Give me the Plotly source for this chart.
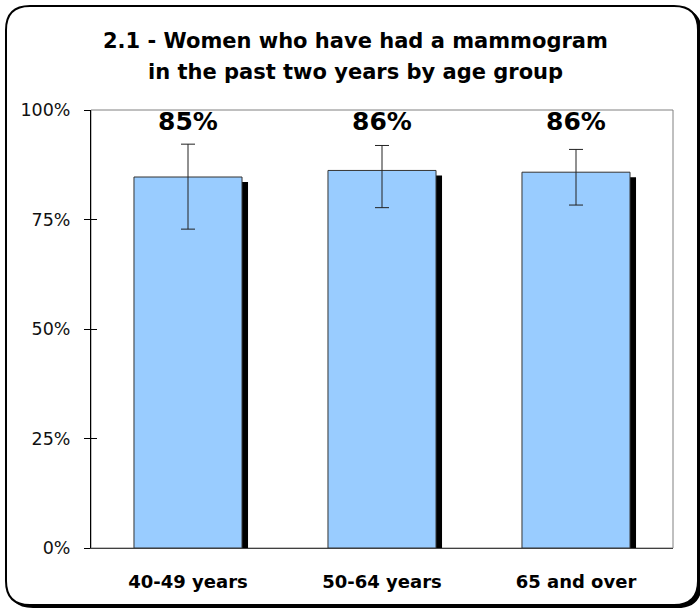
import plotly.graph_objects as go

categories = ["40-49 years", "50-64 years", "65 and over"]
values = [84.7, 86.2, 85.8]
err_upper = [92.2, 91.9, 91.0]
err_lower = [72.8, 77.7, 78.3]
labels = ["85%", "86%", "86%"]
tick_vals = [0, 25, 50, 75, 100]
tick_text = ["0%", "25%", "50%", "75%", "100%"]
title_lines = ["2.1 - Women who have had a mammogram", "in the past two years by age group"]

W, H = 700, 608
ML, MR, MT, MB = 91, 27, 110, 60
PW, PH = W - ML - MR, H - MT - MB

def px2paper(x, y):
    return (x - ML) / PW, (H - MB - y) / PH

bar_w = 0.557
shadow_dx = 6 / (PW / 3)
shadow_dy = 5 / PH * 100

fig = go.Figure()
# shadow
fig.add_trace(go.Bar(
    x=categories, y=[v - shadow_dy for v in values],
    width=bar_w, offset=-bar_w / 2 + shadow_dx,
    marker=dict(color="black", line=dict(width=0)),
    hoverinfo="skip", showlegend=False))
# main bars
fig.add_trace(go.Bar(
    x=categories, y=values, width=bar_w, offset=-bar_w / 2,
    marker=dict(color="#99CCFF", line=dict(color="#333333", width=1)),
    showlegend=False))
# error bars
fig.add_trace(go.Scatter(
    x=categories, y=values, mode="markers",
    marker=dict(size=0.1, color="rgba(0,0,0,0)"),
    error_y=dict(type="data", symmetric=False,
                 array=[u - v for u, v in zip(err_upper, values)],
                 arrayminus=[v - l for v, l in zip(values, err_lower)],
                 color="#222222", thickness=1, width=7),
    showlegend=False, hoverinfo="skip"))
# invisible trace for inner ticks axis
fig.add_trace(go.Scatter(x=categories, y=values, yaxis="y2", mode="markers",
                         marker=dict(opacity=0), showlegend=False, hoverinfo="skip"))

for c, lab in zip(categories, labels):
    fig.add_annotation(x=c, y=97.3, text=lab, showarrow=False, yanchor="middle",
                       font=dict(family="DejaVu Sans", size=25, color="black", weight="bold"))

for line, ypx in zip(title_lines, [41, 72]):
    fig.add_annotation(xref="paper", yref="paper", x=px2paper(355, 0)[0], y=px2paper(0, ypx)[1],
                       text=line, showarrow=False, yanchor="middle", xanchor="center",
                       font=dict(family="DejaVu Sans", size=21, color="black", weight="bold"))

# outer rounded rectangle with shadow
def rounded(x0, y0, x1, y1, r):
    def P(x, y):
        a, b = px2paper(x, y)
        return f"{a:.5f},{b:.5f}"
    return (f"M {P(x0 + r, y0)} L {P(x1 - r, y0)} Q {P(x1, y0)} {P(x1, y0 + r)} "
            f"L {P(x1, y1 - r)} Q {P(x1, y1)} {P(x1 - r, y1)} "
            f"L {P(x0 + r, y1)} Q {P(x0, y1)} {P(x0, y1 - r)} "
            f"L {P(x0, y0 + r)} Q {P(x0, y0)} {P(x0 + r, y0)} Z")

shapes = [
    dict(type="path", xref="paper", yref="paper", path=rounded(9, 9, 701, 607, 24),
         fillcolor="black", line=dict(color="black", width=2), layer="below"),
    dict(type="path", xref="paper", yref="paper", path=rounded(6, 6, 698, 605, 24),
         fillcolor="white", line=dict(color="black", width=2), layer="below"),
    dict(type="rect", xref="paper", yref="paper", x0=0, y0=0, x1=1, y1=1,
         line=dict(color="#808080", width=1), fillcolor="rgba(0,0,0,0)", layer="below"),
]

fig.update_layout(
    width=W, height=H, margin=dict(l=ML, r=MR, t=MT, b=MB, pad=0),
    paper_bgcolor="white", plot_bgcolor="rgba(0,0,0,0)",
    barmode="overlay", shapes=shapes,
    xaxis=dict(showline=True, linecolor="#404040", linewidth=1, ticks="",
               showgrid=False, zeroline=False,
               tickfont=dict(family="DejaVu Sans", size=18, color="black", weight="bold"),
               ticklabelstandoff=17),
    yaxis=dict(range=[0, 100], tickvals=tick_vals, ticktext=tick_text,
               showline=True, linecolor="black", linewidth=1, ticks="outside",
               ticklen=6, tickcolor="black", showgrid=False, zeroline=False,
               tickfont=dict(family="DejaVu Sans", size=17.5, color="#111111"),
               ticklabelstandoff=10),
    yaxis2=dict(range=[0, 100], overlaying="y", side="left", tickvals=tick_vals,
                showticklabels=False, ticks="inside", ticklen=6, tickcolor="black",
                showgrid=False, zeroline=False, showline=False),
)

fig.write_html("out.html", config={"displayModeBar": False},
               post_script="document.body.style.margin='0';document.body.style.padding='0';"
                           "document.body.style.overflow='hidden';")
